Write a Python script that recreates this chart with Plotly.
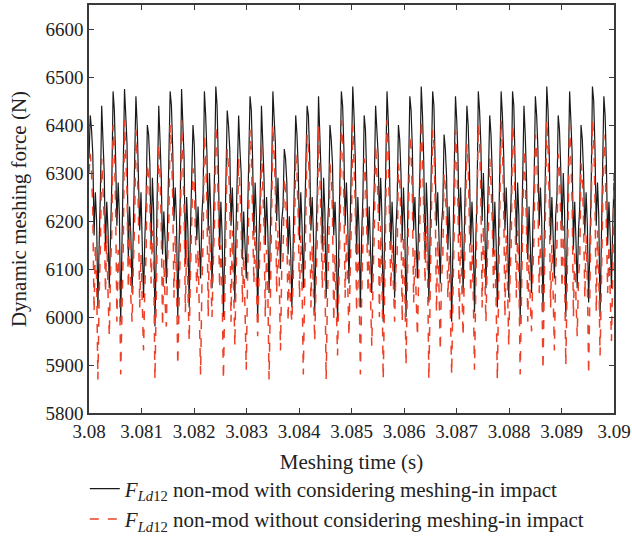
import numpy as np
import plotly.graph_objects as go

# Tick labels
x_tick_vals = [3.080, 3.081, 3.082, 3.083, 3.084, 3.085, 3.086, 3.087, 3.088, 3.089, 3.090]
x_tick_text = ["3.08", "3.081", "3.082", "3.083", "3.084", "3.085", "3.086", "3.087", "3.088", "3.089", "3.09"]
y_tick_vals = [5800, 5900, 6000, 6100, 6200, 6300, 6400, 6500, 6600]

# Black: with considering meshing-in impact (one mesh cycle per line)
force_with_impact = [
    6330, 6420, 6390, 6340, 6170, 6260, 6200, 6020, 6150,
    6260, 6440, 6380, 6300, 6140, 6240, 6180, 6060, 6170,
    6280, 6470, 6430, 6330, 6190, 6280, 6210, 5990, 6140,
    6250, 6475, 6420, 6360, 6120, 6230, 6170, 6050, 6190,
    6300, 6460, 6400, 6310, 6180, 6260, 6140, 6040, 6160,
    6240, 6400, 6380, 6320, 6150, 6290, 6220, 5980, 6130,
    6270, 6440, 6370, 6290, 6130, 6220, 6160, 6070, 6200,
    6310, 6470, 6440, 6350, 6200, 6270, 6200, 6000, 6150,
    6250, 6475, 6410, 6330, 6110, 6250, 6180, 6020, 6180,
    6290, 6400, 6360, 6280, 6160, 6230, 6130, 6080, 6210,
    6260, 6470, 6420, 6340, 6180, 6300, 6220, 6060, 6170,
    6300, 6480, 6440, 6320, 6140, 6240, 6170, 6000, 6140,
    6240, 6430, 6400, 6350, 6190, 6270, 6190, 6030, 6190,
    6280, 6420, 6350, 6300, 6120, 6220, 6150, 6080, 6200,
    6310, 6460, 6430, 6330, 6170, 6280, 6210, 5990, 6160,
    6250, 6440, 6380, 6290, 6150, 6250, 6180, 6050, 6180,
    6290, 6470, 6420, 6360, 6200, 6290, 6200, 6100, 6200,
    6230, 6350, 6330, 6280, 6130, 6210, 6140, 6020, 6150,
    6270, 6420, 6380, 6310, 6160, 6260, 6190, 6060, 6190,
    6300, 6440, 6420, 6340, 6180, 6250, 6170, 6010, 6160,
    6260, 6460, 6390, 6300, 6140, 6290, 6220, 6040, 6180,
    6240, 6400, 6370, 6320, 6170, 6240, 6160, 5990, 6140,
    6290, 6470, 6440, 6350, 6190, 6280, 6200, 6070, 6200,
    6310, 6480, 6420, 6330, 6130, 6250, 6180, 6020, 6170,
    6250, 6420, 6390, 6290, 6150, 6230, 6150, 6050, 6190,
    6280, 6440, 6400, 6340, 6200, 6290, 6210, 5990, 6150,
    6300, 6470, 6410, 6310, 6140, 6240, 6170, 6040, 6180,
    6240, 6400, 6370, 6300, 6160, 6270, 6190, 6000, 6160,
    6270, 6460, 6430, 6350, 6180, 6250, 6160, 6080, 6210,
    6310, 6480, 6420, 6320, 6120, 6280, 6210, 6030, 6170,
    6260, 6470, 6440, 6340, 6190, 6260, 6180, 6070, 6190,
    6230, 6380, 6350, 6290, 6140, 6230, 6150, 5990, 6150,
    6280, 6460, 6410, 6330, 6170, 6270, 6200, 6050, 6180,
    6300, 6440, 6400, 6310, 6150, 6240, 6170, 6010, 6160,
    6250, 6470, 6430, 6360, 6200, 6300, 6220, 6060, 6200,
    6290, 6420, 6380, 6300, 6130, 6240, 6160, 6020, 6170,
    6310, 6470, 6420, 6340, 6180, 6270, 6190, 6040, 6180,
    6260, 6470, 6440, 6320, 6150, 6280, 6210, 5990, 6150,
    6240, 6440, 6380, 6290, 6120, 6230, 6150, 6050, 6190,
    6280, 6460, 6420, 6350, 6190, 6270, 6200, 6010, 6160,
    6300, 6480, 6430, 6330, 6160, 6250, 6170, 6080, 6210,
    6250, 6420, 6390, 6310, 6180, 6300, 6220, 6000, 6170,
    6290, 6470, 6410, 6340, 6140, 6240, 6160, 6060, 6180,
    6230, 6400, 6370, 6300, 6170, 6260, 6190, 6030, 6160,
    6270, 6480, 6450, 6350, 6190, 6280, 6210, 6000, 6150,
    6300, 6460, 6420, 6320, 6150, 6240, 6170, 6060, 6190,
    6280,
]

# Red dashed: without considering meshing-in impact
force_without_impact = [
    6300, 6340, 6300, 6220, 6010, 6150, 6080, 5870, 6040,
    6150, 6330, 6270, 6200, 6050, 6170, 6050, 5960, 6100,
    6180, 6400, 6350, 6230, 5990, 6140, 6090, 5880, 6020,
    6140, 6410, 6340, 6260, 6060, 6190, 6040, 5990, 6110,
    6200, 6390, 6330, 6210, 6020, 6130, 6000, 5930, 6060,
    6130, 6320, 6290, 6240, 6070, 6180, 6110, 5870, 6010,
    6170, 6360, 6300, 6190, 5980, 6120, 6030, 5980, 6120,
    6210, 6400, 6360, 6250, 6040, 6170, 6080, 5900, 6040,
    6150, 6410, 6330, 6230, 6010, 6160, 6060, 5950, 6090,
    6190, 6310, 6280, 6180, 6050, 6140, 6010, 5880, 6060,
    6160, 6380, 6330, 6240, 6000, 6190, 6100, 6000, 6110,
    6200, 6400, 6350, 6220, 6060, 6150, 6050, 5870, 6030,
    6130, 6350, 6310, 6250, 5990, 6180, 6070, 5940, 6090,
    6180, 6330, 6270, 6200, 6030, 6130, 6020, 5890, 6070,
    6210, 6390, 6350, 6230, 6070, 6190, 6090, 5960, 6080,
    6150, 6360, 6290, 6190, 6000, 6140, 6060, 5870, 6030,
    6190, 6400, 6340, 6260, 6050, 6180, 6080, 5930, 6100,
    6120, 6290, 6260, 6180, 5990, 6120, 6020, 5990, 6080,
    6170, 6340, 6300, 6210, 6040, 6170, 6070, 5880, 6050,
    6200, 6380, 6350, 6240, 6020, 6150, 6050, 5950, 6070,
    6160, 6400, 6320, 6200, 6060, 6190, 6100, 5870, 6040,
    6130, 6320, 6290, 6220, 5990, 6130, 6040, 5920, 6060,
    6190, 6410, 6370, 6250, 6040, 6180, 6080, 5960, 6100,
    6210, 6400, 6330, 6230, 6010, 6160, 6060, 5880, 6040,
    6150, 6330, 6300, 6190, 6050, 6140, 6030, 5940, 6080,
    6180, 6360, 6310, 6240, 6000, 6190, 6090, 5870, 6030,
    6200, 6410, 6340, 6210, 6060, 6150, 6050, 5990, 6100,
    6130, 6320, 6290, 6200, 5990, 6170, 6070, 5900, 6060,
    6170, 6380, 6350, 6250, 6030, 6140, 6040, 5960, 6090,
    6210, 6410, 6340, 6220, 6070, 6190, 6090, 5870, 6040,
    6160, 6390, 6360, 6240, 6010, 6160, 6060, 5930, 6080,
    6120, 6300, 6270, 6190, 6040, 6130, 6030, 5880, 6050,
    6180, 6390, 6330, 6230, 5990, 6180, 6080, 5960, 6090,
    6200, 6360, 6320, 6210, 6050, 6150, 6050, 5890, 6060,
    6150, 6400, 6370, 6260, 6020, 6190, 6100, 5990, 6110,
    6190, 6330, 6280, 6200, 6060, 6140, 6040, 5870, 6040,
    6210, 6410, 6350, 6240, 6000, 6170, 6070, 5940, 6080,
    6160, 6400, 6370, 6220, 6040, 6180, 6090, 5880, 6030,
    6130, 6350, 6290, 6190, 5990, 6130, 6030, 5970, 6090,
    6180, 6380, 6340, 6250, 6050, 6170, 6080, 5890, 6050,
    6200, 6410, 6350, 6230, 6020, 6150, 6050, 5930, 6100,
    6150, 6340, 6310, 6210, 6060, 6190, 6100, 5900, 6060,
    6190, 6400, 6330, 6240, 6000, 6140, 6040, 5960, 6080,
    6120, 6320, 6290, 6200, 6040, 6170, 6070, 5880, 6040,
    6170, 6410, 6370, 6250, 6010, 6180, 6090, 5920, 6060,
    6200, 6380, 6330, 6220, 6050, 6150, 6050, 5950, 6090,
    6300,
]

# Sampling grid of the simulation time axis
t_start, t_end = 3.080, 3.090
time_s = np.linspace(t_start, t_end, len(force_with_impact))

label_with = "<i>F</i><sub><i>Ld</i>12</sub> non-mod with considering meshing-in impact"
label_without = "<i>F</i><sub><i>Ld</i>12</sub> non-mod without considering meshing-in impact"

fig = go.Figure()
fig.add_trace(go.Scatter(
    x=time_s, y=force_with_impact, mode="lines", name=label_with,
    line=dict(color="#1a1a1a", width=1.2),
))
fig.add_trace(go.Scatter(
    x=time_s, y=force_without_impact, mode="lines", name=label_without,
    line=dict(color="#ee4026", width=1.5, dash="dash"),
))

font_family = "Liberation Serif, Times New Roman, serif"
axis_common = dict(
    showline=True, linecolor="#3a3a3a", linewidth=1.5, mirror="ticks",
    ticks="inside", ticklen=5, tickcolor="#3a3a3a", tickwidth=1,
    showgrid=False, zeroline=False, automargin=False,
    tickfont=dict(family=font_family, size=19, color="#222"),
)

fig.update_layout(
    width=632, height=545,
    margin=dict(l=89, r=18, t=5, b=130),
    paper_bgcolor="white", plot_bgcolor="white",
    font=dict(family=font_family, size=20, color="#222"),
    xaxis=dict(range=[t_start, t_end], tickvals=x_tick_vals, ticktext=x_tick_text,
               title=dict(text="Meshing time (s)", font=dict(size=21), standoff=14),
               **axis_common),
    yaxis=dict(range=[5800, 6650], tickvals=y_tick_vals,
               title=dict(text="Dynamic meshing force (N)", font=dict(size=21), standoff=13),
               **axis_common),
    legend=dict(x=-0.008, y=-0.31, xanchor="left", yanchor="bottom",
                bgcolor="rgba(0,0,0,0)", font=dict(size=21), tracegroupgap=0,
                itemwidth=30),
    showlegend=True,
)

fig.write_html("out.html", config={"displayModeBar": False},
               post_script="document.body.style.margin='0';document.body.style.padding='0';")
